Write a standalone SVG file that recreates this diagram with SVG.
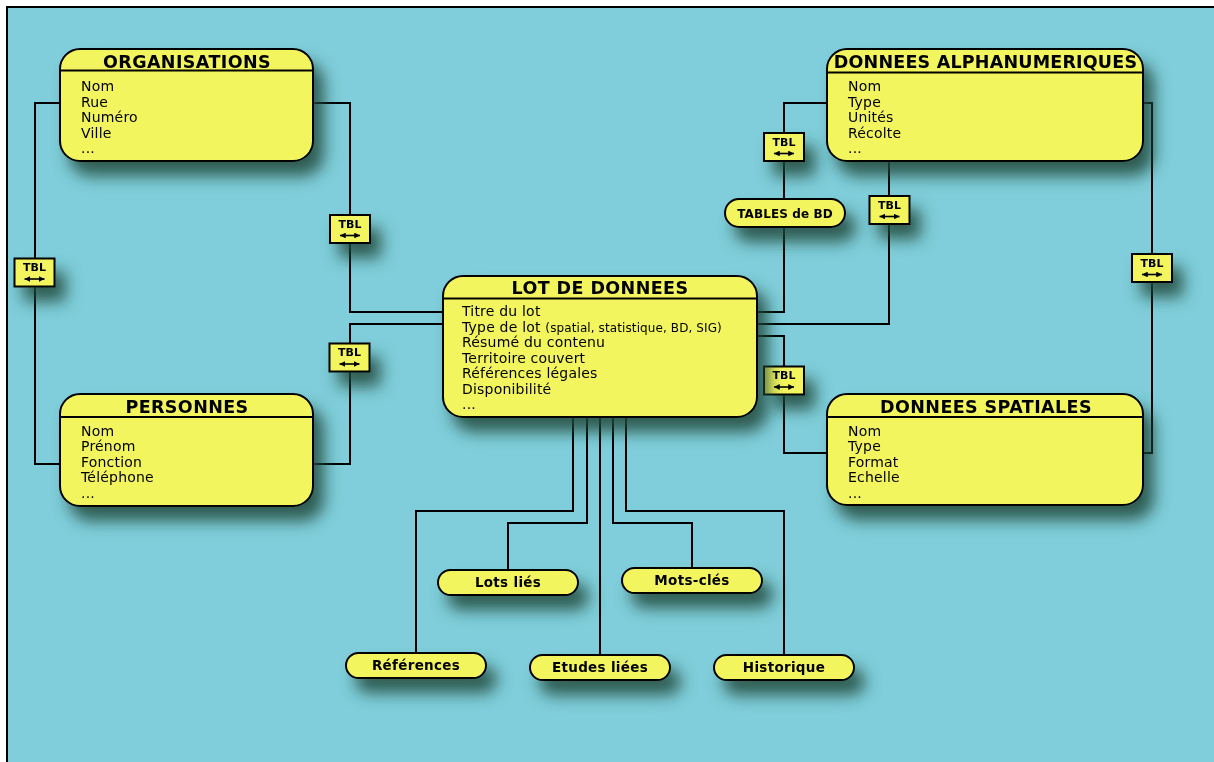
<svg xmlns="http://www.w3.org/2000/svg" width="1214" height="762" viewBox="0 0 1214 762">
  <defs>
    <style>
      .box{fill:#F3F55F;stroke:#000;stroke-width:2}
      .sep{stroke:#000;stroke-width:2}
      .title{font-family:"DejaVu Sans",Verdana,sans-serif;font-weight:bold;font-size:17.5px;letter-spacing:0.4px;text-anchor:middle;fill:#000}
      .item{font-family:"DejaVu Sans",Verdana,sans-serif;font-size:14px;letter-spacing:0.2px;fill:#000}
      .small{font-size:12px;letter-spacing:0.1px}
      .pill{fill:#F3F55F;stroke:#000;stroke-width:2}
      .ptext{font-family:"DejaVu Sans",Verdana,sans-serif;font-weight:bold;font-size:13.5px;letter-spacing:0.3px;text-anchor:middle;fill:#000}
      .conn{fill:none;stroke:#000;stroke-width:2}
      .tbl{fill:#F3F55F;stroke:#000;stroke-width:2}
      .ttext{font-family:"DejaVu Sans",Verdana,sans-serif;font-weight:bold;font-size:11px;text-anchor:middle;fill:#000}
      .arr{stroke:#000;stroke-width:1.6;fill:none;marker-start:url(#ah);marker-end:url(#ah)}
    </style>
    <filter id="sh" x="-60%" y="-60%" width="260%" height="340%">
      <feDropShadow dx="10" dy="14" stdDeviation="8" flood-color="#1d4a38" flood-opacity="0.85"/>
    </filter>
    <marker id="ah" viewBox="0 0 8 8" refX="8" refY="4" markerWidth="3.6" markerHeight="3.6" orient="auto-start-reverse">
      <path d="M0,0 L8,4 L0,8 Z" fill="#000"/>
    </marker>
  </defs>

  <rect x="0" y="0" width="1214" height="762" fill="#FFFFFF"/>
  <rect x="7" y="7" width="1230" height="780" fill="#80CEDB" stroke="#000" stroke-width="2"/>

  <g id="connectors">
    <path class="conn" d="M60,103 H35 V464 H60"/>
    <path class="conn" d="M313,103 H350 V312 H443"/>
    <path class="conn" d="M313,464 H350 V324 H443"/>
    <path class="conn" d="M827,103 H784 V199"/>
    <path class="conn" d="M784,227 V312 H757"/>
    <path class="conn" d="M889,162 V324 H757"/>
    <path class="conn" d="M757,336 H784 V453 H827"/>
    <path class="conn" d="M1143,103 H1152 V453 H1143"/>
    <path class="conn" d="M573,417 V511 H416 V654"/>
    <path class="conn" d="M587,417 V523 H508 V571"/>
    <path class="conn" d="M600,417 V656"/>
    <path class="conn" d="M613,417 V523 H692 V569"/>
    <path class="conn" d="M626,417 V511 H784 V656"/>

    <g id="tbl1" filter="url(#sh)"><rect class="tbl" x="14.5" y="258.5" width="40" height="28"/><text class="ttext" x="34.5" y="271">TBL</text><path class="arr" d="M24.5,279 H44.5"/></g>
    <g id="tbl2" filter="url(#sh)"><rect class="tbl" x="330" y="215" width="40" height="28"/><text class="ttext" x="350" y="227.5">TBL</text><path class="arr" d="M340,235.5 H360"/></g>
    <g id="tbl3" filter="url(#sh)"><rect class="tbl" x="329.5" y="343.5" width="40" height="28"/><text class="ttext" x="349.5" y="356">TBL</text><path class="arr" d="M339.5,364 H359.5"/></g>
    <g id="tbl4" filter="url(#sh)"><rect class="tbl" x="764" y="133" width="40" height="28"/><text class="ttext" x="784" y="145.5">TBL</text><path class="arr" d="M774,153.5 H794"/></g>
    <g id="tbl5" filter="url(#sh)"><rect class="tbl" x="869.5" y="196" width="40" height="28"/><text class="ttext" x="889.5" y="208.5">TBL</text><path class="arr" d="M879.5,216.5 H899.5"/></g>
    <g id="tbl6" filter="url(#sh)"><rect class="tbl" x="764" y="366.5" width="40" height="28"/><text class="ttext" x="784" y="379">TBL</text><path class="arr" d="M774,387 H794"/></g>
    <g id="tbl7" filter="url(#sh)"><rect class="tbl" x="1132" y="254" width="40" height="28"/><text class="ttext" x="1152" y="266.5">TBL</text><path class="arr" d="M1142,274.5 H1162"/></g>
  </g>

  <g id="organisations" filter="url(#sh)">
    <rect class="box" x="60" y="49" width="253" height="112" rx="20"/>
    <line class="sep" x1="60" y1="70.5" x2="313" y2="70.5"/>
    <text class="title" x="187" y="67.5">ORGANISATIONS</text>
    <text class="item"><tspan x="81" y="91">Nom</tspan><tspan x="81" y="106.5">Rue</tspan><tspan x="81" y="122">Numéro</tspan><tspan x="81" y="137.5">Ville</tspan><tspan x="81" y="153">...</tspan></text>
  </g>

  <g id="personnes" filter="url(#sh)">
    <rect class="box" x="60" y="394" width="253" height="112" rx="20"/>
    <line class="sep" x1="60" y1="417" x2="313" y2="417"/>
    <text class="title" x="187" y="412.5">PERSONNES</text>
    <text class="item"><tspan x="81" y="435.5">Nom</tspan><tspan x="81" y="451">Prénom</tspan><tspan x="81" y="466.5">Fonction</tspan><tspan x="81" y="482">Téléphone</tspan><tspan x="81" y="497.5">...</tspan></text>
  </g>

  <g id="lot-de-donnees" filter="url(#sh)">
    <rect class="box" x="443" y="276" width="314" height="141" rx="20"/>
    <line class="sep" x1="443" y1="298.5" x2="757" y2="298.5"/>
    <text class="title" x="600" y="293.5">LOT DE DONNEES</text>
    <text class="item"><tspan x="462" y="316">Titre du lot</tspan><tspan x="462" y="331.5">Type de lot <tspan class="small">(spatial, statistique, BD, SIG)</tspan></tspan><tspan x="462" y="347">Résumé du contenu</tspan><tspan x="462" y="362.5">Territoire couvert</tspan><tspan x="462" y="378">Références légales</tspan><tspan x="462" y="393.5">Disponibilité</tspan><tspan x="462" y="409">...</tspan></text>
  </g>

  <g id="donnees-alphanumeriques" filter="url(#sh)">
    <rect class="box" x="827" y="49" width="316" height="112" rx="20"/>
    <line class="sep" x1="827" y1="72.5" x2="1143" y2="72.5"/>
    <text class="title" x="985.5" y="68" style="letter-spacing:0.2px">DONNEES ALPHANUMERIQUES</text>
    <text class="item"><tspan x="848" y="91">Nom</tspan><tspan x="848" y="106.5">Type</tspan><tspan x="848" y="122">Unités</tspan><tspan x="848" y="137.5">Récolte</tspan><tspan x="848" y="153">...</tspan></text>
  </g>

  <g id="donnees-spatiales" filter="url(#sh)">
    <rect class="box" x="827" y="394" width="316" height="111" rx="20"/>
    <line class="sep" x1="827" y1="417" x2="1143" y2="417"/>
    <text class="title" x="986" y="412.5">DONNEES SPATIALES</text>
    <text class="item"><tspan x="848" y="435.5">Nom</tspan><tspan x="848" y="451">Type</tspan><tspan x="848" y="466.5">Format</tspan><tspan x="848" y="482">Echelle</tspan><tspan x="848" y="497.5">...</tspan></text>
  </g>

  <g id="tables-de-bd" filter="url(#sh)">
    <rect class="pill" x="725" y="199" width="120" height="28" rx="14"/>
    <text class="ptext" x="785" y="217.5" style="font-size:12px;letter-spacing:0.1px">TABLES de BD</text>
  </g>
  <g id="lots-lies" filter="url(#sh)">
    <rect class="pill" x="438" y="570" width="140" height="25" rx="12.5"/>
    <text class="ptext" x="508" y="587">Lots liés</text>
  </g>
  <g id="mots-cles" filter="url(#sh)">
    <rect class="pill" x="622" y="568" width="140" height="25" rx="12.5"/>
    <text class="ptext" x="692" y="585">Mots-clés</text>
  </g>
  <g id="references" filter="url(#sh)">
    <rect class="pill" x="346" y="653" width="140" height="25" rx="12.5"/>
    <text class="ptext" x="416" y="670">Références</text>
  </g>
  <g id="etudes-liees" filter="url(#sh)">
    <rect class="pill" x="530" y="655" width="140" height="25" rx="12.5"/>
    <text class="ptext" x="600" y="672">Etudes liées</text>
  </g>
  <g id="historique" filter="url(#sh)">
    <rect class="pill" x="714" y="655" width="140" height="25" rx="12.5"/>
    <text class="ptext" x="784" y="672">Historique</text>
  </g>
</svg>
